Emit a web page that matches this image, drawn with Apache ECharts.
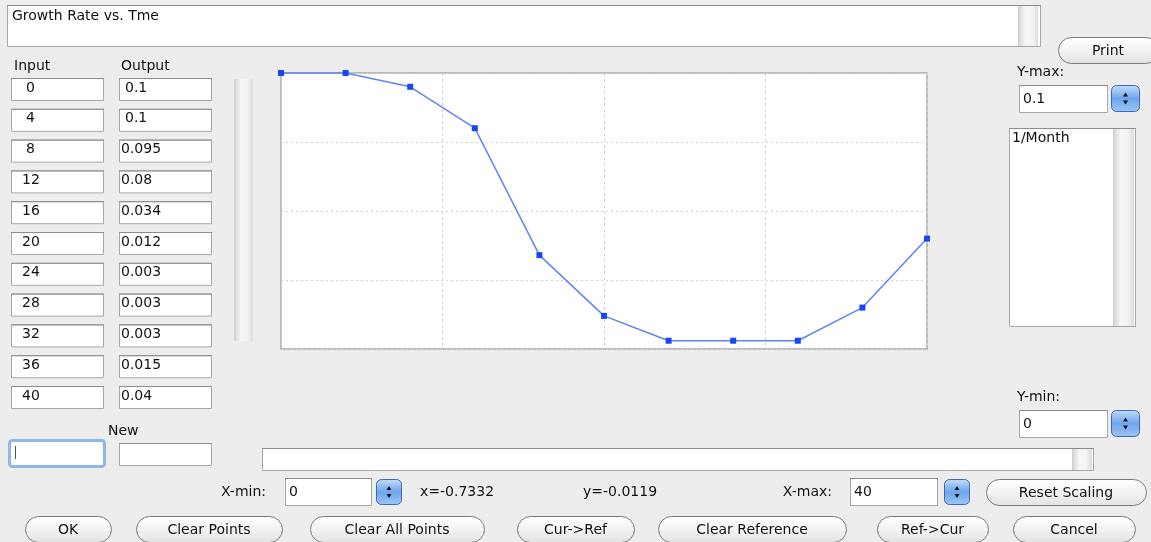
<!DOCTYPE html>
<html>
<head>
<meta charset="utf-8">
<script src="https://cdn.jsdelivr.net/npm/echarts@6/dist/echarts.min.js"></script>
<style>
html,body{margin:0;padding:0;background:#ededed;}
#c{width:1151px;height:542px;}
</style>
</head>
<body>
<div id="c"></div>
<script>
const titleText = 'Growth Rate vs. Tme';
const inputs = [0, 4, 8, 12, 16, 20, 24, 28, 32, 36, 40];
const outputs = [0.1, 0.1, 0.095, 0.08, 0.034, 0.012, 0.003, 0.003, 0.003, 0.015, 0.04];
const xMin = 0, xMax = 40, yMin = 0, yMax = 0.1;
const units = '1/Month';
const cursorX = 'x=-0.7332', cursorY = 'y=-0.0119';
const buttonLabels = ['OK', 'Clear Points', 'Clear All Points', 'Cur->Ref', 'Clear Reference', 'Ref->Cur', 'Cancel'];

const FONT = '"DejaVu Sans", Verdana, sans-serif';
const G = [];

function box(x, y, w, h, opt) {
  opt = opt || {};
  G.push({type: 'rect', shape: {x: x + 0.5, y: y + 0.5, width: w, height: h},
    style: {fill: opt.fill || '#fff', stroke: opt.stroke || '#a8a8a8', lineWidth: opt.lw || 1}, silent: true});
  G.push({type: 'line', shape: {x1: x, y1: y + 0.5, x2: x + w + 1, y2: y + 0.5}, style: {stroke: '#8c8c8c', lineWidth: 1}, silent: true});
}
function txt(x, y, s, opt) {
  opt = opt || {};
  G.push({type: 'text', x: x, y: y, silent: true,
    style: {text: String(s), fill: opt.fill || '#111', font: (opt.size || 14) + 'px ' + FONT,
      textAlign: opt.align || 'left', textVerticalAlign: 'middle'}});
}
function scrollStrip(x, y, w, h) {
  G.push({type: 'rect', shape: {x: x, y: y, width: w, height: h}, silent: true,
    style: {fill: new echarts.graphic.LinearGradient(0, 0, 1, 0, [
      {offset: 0, color: '#d0d0d0'}, {offset: 0.35, color: '#f6f6f6'}, {offset: 0.7, color: '#f4f4f4'}, {offset: 1, color: '#dcdcdc'}])}});
}
function button(x, y, w, h, label) {
  G.push({type: 'rect', shape: {x: x + 0.5, y: y + 0.5, width: w, height: h, r: h / 2}, silent: true,
    style: {fill: new echarts.graphic.LinearGradient(0, 0, 0, 1, [
      {offset: 0, color: '#ffffff'}, {offset: 0.5, color: '#f3f3f3'}, {offset: 1, color: '#e2e2e2'}]),
      stroke: '#7a7a7a', lineWidth: 1}});
  txt(x + w / 2, y + h / 2 + 1, label, {align: 'center'});
}
function spinner(x, y, w, h) {
  G.push({type: 'rect', shape: {x: x + 0.5, y: y + 0.5, width: w, height: h, r: 5}, silent: true,
    style: {fill: new echarts.graphic.LinearGradient(0, 0, 0, 1, [
      {offset: 0, color: '#c4dcfa'}, {offset: 0.5, color: '#6ea6ee'}, {offset: 1, color: '#9cc6f6'}]),
      stroke: '#4169ad', lineWidth: 1}});
  const cx = x + w / 2 + 0.5, cy = y + h / 2 + 0.5;
  G.push({type: 'polygon', shape: {points: [[cx - 2.5, cy - 2], [cx + 2.5, cy - 2], [cx, cy - 6]]}, style: {fill: '#111'}, silent: true});
  G.push({type: 'polygon', shape: {points: [[cx - 2.5, cy + 2], [cx + 2.5, cy + 2], [cx, cy + 6]]}, style: {fill: '#111'}, silent: true});
}

// Title area
box(7, 5, 1033, 41);
scrollStrip(1018, 6, 20, 40);
txt(12, 16, titleText);

// Input/Output table
txt(14, 66, 'Input');
txt(121, 66, 'Output');
inputs.forEach(function (v, i) {
  const top = 78 + i * 30.8;
  box(11, top, 92, 22);
  box(119, top, 92, 22);
  txt(i < 3 ? 26 : 22, top + 10, v);
  txt(i < 2 ? 125 : 121, top + 10, outputs[i]);
});
scrollStrip(234, 79, 19, 262);

// New
txt(108, 431, 'New');
G.push({type: 'rect', shape: {x: 9.5, y: 440.5, width: 95, height: 26, r: 3}, silent: true,
  style: {fill: '#fff', stroke: '#8fb8e6', lineWidth: 3}});
G.push({type: 'line', shape: {x1: 15.5, y1: 446, x2: 15.5, y2: 459}, style: {stroke: '#555', lineWidth: 1}, silent: true});
box(119, 443, 92, 22);

// Status bar
box(262, 448, 831, 22);
scrollStrip(1072, 449, 20, 21);

// Bottom row controls
txt(266, 492, 'X-min:', {align: 'right'});
box(285, 478, 86, 27);
txt(289, 492, xMin);
spinner(376, 479, 25, 25);
txt(420, 492, cursorX);
txt(583, 492, cursorY);
txt(832, 492, 'X-max:', {align: 'right'});
box(850, 478, 87, 27);
txt(854, 492, xMax);
spinner(944, 479, 25, 25);
button(986, 479, 160, 26, 'Reset Scaling');

const btnX = [[25, 86], [136, 146], [310, 174], [517, 117], [658, 188], [877, 111], [1013, 122]];
buttonLabels.forEach(function (b, i) { button(btnX[i][0], 516, btnX[i][1], 26, b); });

// Right panel
button(1058, 37, 100, 26, 'Print');
txt(1017, 72, 'Y-max:');
box(1019, 85, 88, 27);
txt(1023, 99, yMax);
spinner(1111, 85, 28, 26);
box(1009, 128, 126, 198);
scrollStrip(1113, 129, 21, 197);
txt(1012, 138, units);
txt(1017, 397, 'Y-min:');
box(1019, 410, 88, 27);
txt(1023, 424, yMin);
spinner(1111, 410, 28, 26);

const chart = echarts.init(document.getElementById('c'), null, {renderer: 'canvas'});
chart.setOption({
  backgroundColor: '#ededed',
  animation: false,
  grid: {left: 281, top: 73, width: 646, height: 276, show: true, backgroundColor: '#fff', borderColor: '#a9a9a9', borderWidth: 1.5},
  xAxis: {type: 'value', min: xMin, max: xMax, interval: 10,
    axisLine: {show: false}, axisTick: {show: false}, axisLabel: {show: false},
    splitLine: {show: true, lineStyle: {color: '#d2d2d2', type: [3, 3], width: 1}}},
  yAxis: {type: 'value', min: yMin, max: yMax, interval: 0.025,
    axisLine: {show: false}, axisTick: {show: false}, axisLabel: {show: false},
    splitLine: {show: true, lineStyle: {color: '#d2d2d2', type: [2, 3], width: 1}}},
  series: [{
    type: 'line',
    data: inputs.map(function (x, i) { return [x, outputs[i]]; }),
    symbol: 'rect', symbolSize: 6, showAllSymbol: true,
    lineStyle: {color: '#5f84f2', width: 1.5},
    itemStyle: {color: '#1747f5'},
    clip: false
  }],
  graphic: G
});
</script>
</body>
</html>
